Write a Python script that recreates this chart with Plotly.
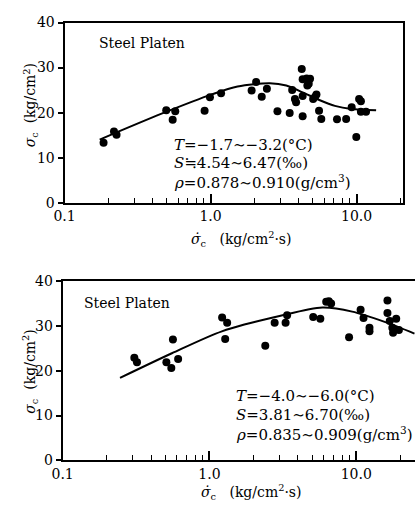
import plotly.graph_objects as go

# ---- Data: top panel (T = -1.7 ~ -3.2 C)
top_rate = [0.185, 0.218, 0.227, 0.497, 0.55, 0.573, 0.91, 0.99, 1.18, 1.91, 2.05, 2.24, 2.43,
            2.87, 3.48, 3.62, 3.78, 3.85, 4.21, 4.27, 4.27, 4.27, 4.55, 4.7, 4.8, 4.6, 5.04,
            5.31, 5.2, 5.53, 5.73, 7.34, 8.48, 9.25, 9.95, 10.4, 10.7, 10.7, 11.6]
top_sigma = [13.3, 15.8, 15.1, 20.5, 18.4, 20.3, 20.4, 23.4, 24.3, 24.9, 26.8, 23.5, 25.3,
             20.3, 19.9, 25.0, 23.0, 22.3, 29.7, 27.4, 23.7, 19.2, 27.6, 26.4, 27.5, 26.0, 23.0,
             24.0, 23.5, 20.4, 18.6, 18.5, 18.6, 21.2, 14.6, 23.0, 22.5, 20.2, 20.2]
top_fit_x = [0.174, 0.227, 0.49, 1.01, 1.53, 2.55, 3.3, 4.27, 5.55, 7.1, 9.2, 13.6]
top_fit_y = [14.0, 15.6, 20.1, 24.0, 25.8, 26.5, 26.0, 24.5, 22.8, 21.5, 20.8, 20.5]

# ---- Data: bottom panel (T = -4.0 ~ -6.0 C)
bot_rate = [0.308, 0.321, 0.564, 0.509, 0.55, 0.612, 1.22, 1.32, 1.28, 2.4, 2.78, 3.3, 3.38,
            5.09, 5.69, 6.24, 6.5, 6.74, 8.93, 10.7, 11.2, 12.3, 12.3, 16.3, 16.3, 16.9, 17.6,
            17.8, 18.7, 19.5]
bot_sigma = [22.9, 21.9, 27.0, 21.9, 20.6, 22.6, 31.9, 30.7, 27.1, 25.6, 30.7, 30.7, 32.4,
             32.0, 31.6, 35.4, 35.5, 35.0, 27.5, 33.6, 31.8, 29.6, 28.8, 35.7, 32.9, 31.1, 29.6,
             28.5, 31.6, 29.1]
bot_fit_x = [0.246, 0.555, 1.215, 3.0, 5.87, 9.38, 15.6, 24.9]
bot_fit_y = [18.4, 23.9, 28.8, 32.2, 34.1, 33.2, 30.9, 28.3]

x_tickvals = [0.1, 1.0, 10.0]
x_ticktext = ["0.1", "1.0", "10.0"]
x_minor = [0.2, 0.3, 0.4, 0.5, 0.6, 0.7, 0.8, 0.9, 2, 3, 4, 5, 6, 7, 8, 9, 20]
y_tickvals = [0, 10, 20, 30, 40]

FONT = "DejaVu Serif"
W, H = 416, 510

fig = go.Figure()
mk = dict(color="black", size=8)
ln = dict(color="black", width=2, shape="spline", smoothing=0.8)

fig.add_trace(go.Scatter(x=top_rate, y=top_sigma, mode="markers", marker=mk, xaxis="x", yaxis="y", showlegend=False))
fig.add_trace(go.Scatter(x=top_fit_x, y=top_fit_y, mode="lines", line=ln, xaxis="x", yaxis="y", showlegend=False))
fig.add_trace(go.Scatter(x=bot_rate, y=bot_sigma, mode="markers", marker=mk, xaxis="x2", yaxis="y2", showlegend=False))
fig.add_trace(go.Scatter(x=bot_fit_x, y=bot_fit_y, mode="lines", line=ln, xaxis="x2", yaxis="y2", showlegend=False))


def px_x(p):
    return p / W


def px_y(p):
    return 1 - p / H


xcommon = dict(type="log", tickmode="array", tickvals=x_tickvals, ticktext=x_ticktext,
               ticks="inside", ticklen=9, tickwidth=1.5, tickcolor="black",
               showline=True, linecolor="black", linewidth=2, showgrid=False, zeroline=False,
               tickfont=dict(family=FONT, size=14, color="black"),
               minor=dict(tickmode="array", tickvals=x_minor, ticks="inside", ticklen=5,
                          tickwidth=1.2, tickcolor="black", showgrid=False))
ycommon = dict(range=[0, 40], tickmode="array", tickvals=y_tickvals, ticks="outside", ticklen=5,
               tickwidth=1.5, tickcolor="black", showline=True, linecolor="black", linewidth=2,
               showgrid=False, zeroline=False, tickfont=dict(family=FONT, size=14, color="black"))

fig.update_layout(
    width=W, height=H, margin=dict(l=0, r=0, t=0, b=0),
    paper_bgcolor="white", plot_bgcolor="white",
    font=dict(family=FONT, size=14, color="black"),
    xaxis=dict(**xcommon, range=[-1.0, 1.32], domain=[px_x(55), px_x(403)], anchor="y", mirror=True),
    yaxis=dict(**ycommon, domain=[px_y(201), px_y(15)], anchor="x", mirror=True),
    xaxis2=dict(**xcommon, range=[-1.0, 1.40], domain=[px_x(53), px_x(415)], anchor="y2", mirror=True),
    yaxis2=dict(**ycommon, domain=[px_y(467), px_y(282)], anchor="x2"),
)

ann = []


def add_text(x, y, text, size=14, xanchor="left", angle=0):
    ann.append(dict(x=px_x(x), y=px_y(y), xref="paper", yref="paper", text=text, showarrow=False,
                    xanchor=xanchor, yanchor="middle", textangle=angle,
                    font=dict(family=FONT, size=size, color="black")))


add_text(88, 36, "Steel Platen", size=14)
add_text(73, 305, "Steel Platen", size=14)

add_text(165, 141, "<i>T</i>=−1.7∼−3.2(°C)", size=15)
add_text(165, 160, "<i>S</i>≒4.54∼6.47(‰)", size=15)
add_text(165, 180, "<i>ρ</i>=0.878∼0.910(g/cm<sup>3</sup>)", size=15)

add_text(229, 401, "<i>T</i>=−4.0∼−6.0(°C)", size=15)
add_text(229, 420, "<i>S</i>=3.81∼6.70(‰)", size=15)
add_text(229, 440, "<i>ρ</i>=0.835∼0.909(g/cm<sup>3</sup>)", size=15)

ylab = "<i>σ</i><sub>c</sub>  (kg/cm<sup>2</sup>)"
add_text(20, 100, ylab, size=14, xanchor="center", angle=-90)
add_text(20, 375, ylab, size=14, xanchor="center", angle=-90)

xlab = "<i>σ̇</i><sub>c</sub>   (kg/cm<sup>2</sup>·s)"
add_text(237, 238, xlab, size=14, xanchor="center")
add_text(247, 500, xlab, size=14, xanchor="center")

fig.update_layout(annotations=ann)
fig.write_html("out.html")
